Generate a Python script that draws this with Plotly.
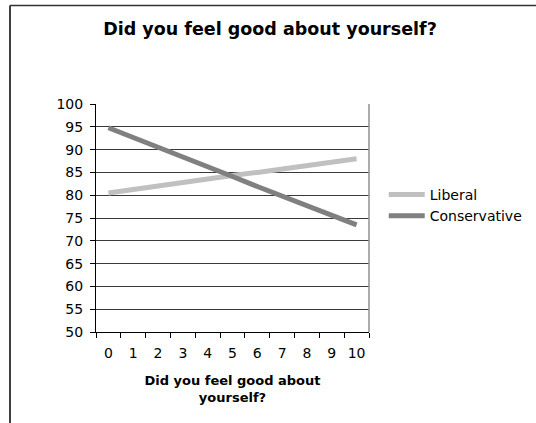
import plotly.graph_objects as go

categories = ["0", "1", "2", "3", "4", "5", "6", "7", "8", "9", "10"]
liberal = [80.5, 81.3, 82.0, 82.8, 83.5, 84.3, 85.0, 85.8, 86.5, 87.3, 88.0]
conservative = [94.8, 92.7, 90.5, 88.4, 86.2, 84.1, 81.9, 79.8, 77.6, 75.5, 73.5]
y_ticks = [50, 55, 60, 65, 70, 75, 80, 85, 90, 95, 100]

FONT = "DejaVu Sans, Verdana, sans-serif"

fig = go.Figure()
fig.add_trace(go.Scatter(x=categories, y=liberal, mode="lines", name="Liberal",
                         line=dict(color="#c0c0c0", width=5)))
fig.add_trace(go.Scatter(x=categories, y=conservative, mode="lines", name="Conservative",
                         line=dict(color="#808080", width=5)))

fig.update_layout(
    width=536, height=423,
    margin=dict(l=96, r=167, t=104, b=91, autoexpand=False),
    paper_bgcolor="white", plot_bgcolor="white",
    font=dict(family=FONT, size=14, color="black"),
    title=dict(text="<b>Did you feel good about yourself?</b>", x=270/536, xanchor="center",
               y=1 - 29/423, yanchor="middle", font=dict(size=17.5)),
    legend=dict(x=1.054, xanchor="left", y=0.555, yanchor="middle",
                font=dict(size=14), bgcolor="rgba(0,0,0,0)", itemwidth=36,
                tracegroupgap=0),
    showlegend=True,
)
fig.update_xaxes(type="category", range=[-0.5, 10.5], tickson="boundaries", ticks="outside",
                 ticklen=5, tickcolor="black", showline=True, linecolor="black", linewidth=1,
                 showgrid=False, tickfont=dict(size=14), ticklabelstandoff=8, tickangle=0,
                 title=dict(text="<b>Did you feel good about<br>yourself?</b>",
                            font=dict(size=13), standoff=16))
fig.update_yaxes(range=[50, 100], tickvals=y_ticks, ticks="outside", ticklen=5,
                 tickcolor="black", showline=True, linecolor="black", linewidth=1,
                 showgrid=True, gridcolor="#3a3a3a", gridwidth=1, zeroline=False,
                 tickfont=dict(size=14), ticklabelstandoff=4)

# plot-area right border (gray) and outer chart frame
fig.add_shape(type="line", xref="paper", yref="paper", x0=1, x1=1, y0=0, y1=1,
              line=dict(color="#909090", width=1.5))
fig.add_shape(type="line", xref="paper", yref="paper", x0=(10 - 96) / 273, x1=(10 - 96) / 273,
              y0=(332 - 5.5) / 228, y1=-1, line=dict(color="black", width=1.5))
fig.add_shape(type="line", xref="paper", yref="paper", x0=(10 - 96) / 273, x1=2,
              y0=(332 - 5.5) / 228, y1=(332 - 5.5) / 228, line=dict(color="#333", width=1.5))

fig.write_html("out.html")
